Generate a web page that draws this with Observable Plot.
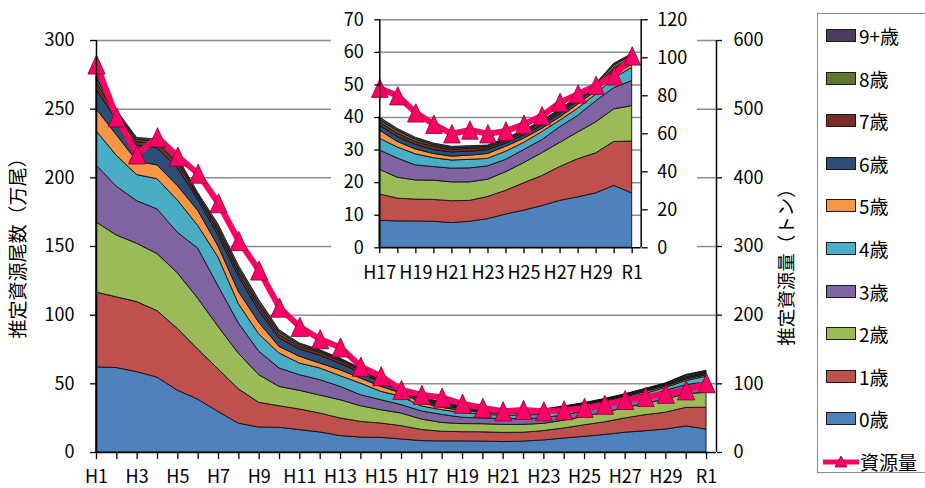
<!DOCTYPE html>
<html lang="ja"><head><meta charset="utf-8">
<script src="https://cdn.jsdelivr.net/npm/d3@7"></script>
<script src="https://cdn.jsdelivr.net/npm/@observablehq/plot@0.6"></script>
<style>
html,body{margin:0;padding:0;background:#fff;}
#wrap{position:relative;width:925px;height:488px;overflow:hidden;font-family:"Noto Sans CJK JP","Noto Sans",sans-serif;}
#main{position:absolute;left:0;top:0;}
#inset{position:absolute;left:331px;top:0;background:#fff;}
#legend{position:absolute;left:817px;top:13px;width:140px;height:460px;border:1.3px solid #8a8a8a;box-sizing:border-box;background:#fff;}
.item{position:absolute;left:8px;height:26px;display:flex;align-items:center;font-size:19px;color:#000;white-space:nowrap;}
.sw{width:28px;height:11px;border:1.2px solid #1a1a1a;margin-right:3px;}
</style></head>
<body><div id="wrap"><div id="main"></div><div id="inset"></div><div id="legend"></div></div>
<script>
const years = ["H1","H2","H3","H4","H5","H6","H7","H8","H9","H10","H11","H12","H13","H14","H15","H16","H17","H18","H19","H20","H21","H22","H23","H24","H25","H26","H27","H28","H29","H30","R1"];
const ages = ["0歳","1歳","2歳","3歳","4歳","5歳","6歳","7歳","8歳","9+歳"];
const colors = ["#4F81BD","#C0504D","#9BBB59","#8064A2","#4BACC6","#F79646","#2C4D75","#772C2A","#5F7530","#4D3B62"];

// 推定資源尾数（万尾） by age
const age0 = [62,61.5,58.5,54.5,45,38.5,29.5,21,18.2,18,16.3,14.6,12,10.9,10.7,9.5,8.3,8.1,8.1,8.0,7.6,8.0,8.8,10.2,11.4,12.8,14.4,15.5,16.7,19.0,16.7];
const age1 = [54.5,51.5,51,48.5,45,36.5,31,25,18,15.7,15,13.8,12.8,11.4,10.4,9.7,8.1,7.0,6.7,6.7,6.7,6.4,6.8,7.3,8.4,9.2,10.4,11.7,12.3,13.5,15.9];
const age2 = [51,45,42.5,41.5,40.5,37,31,26,20.1,14.1,13.6,13.1,13.3,11.4,9.7,9.2,7.6,6.4,5.9,5.9,5.8,5.7,5.3,5.7,6.2,7.0,7.4,8.2,9.5,10.0,10.9];
const age3 = [41.5,35.5,31,32.5,29.5,36.5,29.5,22,17.2,13.4,11.4,11.2,9.7,8.0,7.3,6.1,5.9,5.9,4.6,4.2,4.2,4.3,4.1,3.8,4.0,4.0,4.8,5.1,6.5,6.5,7.7];
const age4 = [25,22.5,19,22,23.5,16.5,21,14,12.5,10.9,8.5,8.5,7.8,8.5,6.1,6.0,3.6,3.4,3.4,2.7,2.5,2.6,2.3,2.5,2.2,2.5,2.0,2.2,2.0,3.0,4.0];
const age5 = [16,15,10,10,10.5,11,8,9,8.5,4.8,4.9,3.6,4.3,3.7,3.6,2.5,2.5,1.7,1.5,1.3,1.2,1.3,1.5,1.5,1.3,1.0,1.0,1.3,1.0,1.0,1.0];
const age6 = [14,11,11.5,12.5,13,8,8,11,8.5,6.1,5.3,5.7,4.6,4.1,2.7,1.8,1.5,1.5,1.4,1.2,1.3,1.2,1.2,1.0,1.0,1.0,1.0,1.0,0.8,1.0,1.1];
const age7 = [5.5,3.5,2.5,3.5,4,2,3,3,3,2.5,2,2,2,1.5,1.0,0.8,1.0,1.0,0.9,1.0,0.7,0.9,0.6,0.7,0.7,0.7,0.6,0.6,0.7,1.0,0.9];
const age8 = [3,1.5,1.5,1.5,2,1.5,2,2.5,2,1.8,1.3,1.0,1.0,0.9,0.7,0.5,0.7,0.8,0.7,0.5,0.5,0.4,0.4,0.5,0.4,0.4,0.4,0.4,0.5,1.0,0.8];
const age9 = [3.5,2,1.5,1.5,2,1.5,3,2.5,3,1.7,1.1,1.0,0.9,0.8,0.5,0.5,0.8,0.7,0.6,0.5,0.5,0.4,0.4,0.3,0.4,0.4,0.4,0.3,0.3,0.5,0.5];
// 資源量（トン）
const biomass = [565,488,434,459,431,406,363,308,265,211,183,165,153,125,111,91,84,80,71,65,60,62,60,61.5,65,69.5,76.5,81,85.5,90.5,101];

const ageSeries = [age0,age1,age2,age3,age4,age5,age6,age7,age8,age9];
const pink = "#FF0066";
const font = '"Noto Sans CJK JP","Noto Sans",sans-serif';

const long = [];
ageSeries.forEach((arr, k) => arr.forEach((v, i) => long.push({i, age: ages[k], v})));
const idx = years.map((_, i) => i);

const tri = {draw(ctx, size) {
  const r = Math.sqrt(size / Math.PI);
  const w = 2.3 * r, h = 2.55 * r;
  ctx.moveTo(0, -h / 2); ctx.lineTo(w / 2, h / 2); ctx.lineTo(-w / 2, h / 2); ctx.closePath();
}};

const axisStyle = {fontSize: 18, strokeWidth: 1.3};

const main = Plot.plot({
  width: 925, height: 488,
  marginLeft: 96, marginRight: 209, marginTop: 40, marginBottom: 36,
  style: {fontFamily: font, fontSize: "18px", color: "#000", background: "transparent", overflow: "visible"},
  x: {type: "linear", domain: [0, 30.49], label: null},
  y: {domain: [0, 300], label: null},
  color: {domain: ages, range: colors},
  marks: [
    Plot.ruleY([50,100,150,200,250,300], {stroke: "#8c8c8c", strokeWidth: 1.5}),
    Plot.areaY(long, {x: "i", y: "v", fill: "age", order: ages, stroke: "#111", strokeWidth: 0.9, strokeLinejoin: "round"}),
    Plot.line(idx, {x: i => i, y: i => biomass[i] / 2, stroke: pink, strokeWidth: 6, strokeLinejoin: "round"}),
    Plot.dot(idx, {x: i => i, y: i => biomass[i] / 2, symbol: tri, r: 7.5, fill: pink, stroke: "#7a0030", strokeWidth: 0.8}),
    Plot.axisY([0,50,100,150,200,250,300], {anchor: "left", tickSize: 6, tickPadding: 16, label: null, ...axisStyle}),
    Plot.axisY([0,50,100,150,200,250,300], {anchor: "right", tickSize: 5, tickPadding: 12, label: null, tickFormat: d => d * 2, ...axisStyle}),
    Plot.axisX(idx, {anchor: "bottom", tickSize: 7, tickPadding: 11, label: null, tickFormat: i => (i % 2 === 0 ? years[i] : ""), ...axisStyle}),
    Plot.ruleX([0, 30.49], {stroke: "#000", strokeWidth: 1.5}),
    Plot.ruleY([0], {stroke: "#000", strokeWidth: 1.5}),
    Plot.text(["推定資源尾数（万尾）"], {frameAnchor: "left", textAnchor: "middle", dx: -78, dy: -3, rotate: -90, fontSize: 19, fill: "#000"}),
    Plot.text(["推定資源量（トン）"], {frameAnchor: "right", textAnchor: "middle", dx: 71, dy: 16, rotate: -90, fontSize: 18.5, fill: "#000"})
  ]
});
document.getElementById("main").appendChild(main);

const insetIdx = idx.filter(i => i >= 16);
const insetLong = long.filter(d => d.i >= 16);
const k = 70 / 120;
const inset = Plot.plot({
  width: 366, height: 292,
  marginLeft: 48.3, marginRight: 56.3, marginTop: 19.3, marginBottom: 44.7,
  style: {fontFamily: font, fontSize: "18px", color: "#000", background: "#fff", overflow: "visible"},
  x: {type: "linear", domain: [16, 30.5], label: null},
  y: {domain: [0, 70], label: null},
  color: {domain: ages, range: colors},
  marks: [
    Plot.ruleY([10,20,30,40,50,60,70], {stroke: "#8c8c8c", strokeWidth: 1.5}),
    Plot.areaY(insetLong, {x: "i", y: "v", fill: "age", order: ages, stroke: "#111", strokeWidth: 0.9, strokeLinejoin: "round"}),
    Plot.line(insetIdx, {x: i => i, y: i => biomass[i] * k, stroke: pink, strokeWidth: 6, strokeLinejoin: "round"}),
    Plot.dot(insetIdx, {x: i => i, y: i => biomass[i] * k, symbol: tri, r: 7.2, fill: pink, stroke: "#7a0030", strokeWidth: 0.8}),
    Plot.axisY([0,10,20,30,40,50,60,70], {anchor: "left", tickSize: 5, tickPadding: 11, label: null, ...axisStyle}),
    Plot.axisY([0,20,40,60,80,100,120].map(t => t * k), {anchor: "right", tickSize: 6, tickPadding: 10, label: null, tickFormat: d => Math.round(d / k), ...axisStyle}),
    Plot.axisX(insetIdx, {anchor: "bottom", tickSize: 6, tickPadding: 12, label: null, tickFormat: i => (i % 2 === 0 ? years[i] : ""), ...axisStyle}),
    Plot.ruleX([16, 30.5], {stroke: "#000", strokeWidth: 1.5}),
    Plot.ruleY([0], {stroke: "#000", strokeWidth: 1.5})
  ]
});
document.getElementById("inset").appendChild(inset);

// legend
const legend = document.getElementById("legend");
const order = ages.map((a, i) => i).reverse();
order.forEach((ai, j) => {
  const it = document.createElement("div");
  it.className = "item";
  it.style.top = (21.5 + j * 42.6 - 13) + "px";
  it.innerHTML = `<span class="sw" style="background:${colors[ai]}"></span><span>${ages[ai]}</span>`;
  legend.appendChild(it);
});
const last = document.createElement("div");
last.className = "item";
last.style.left = "5px";
last.style.top = (21.5 + 10 * 42.6 - 13) + "px";
last.innerHTML = `<svg width="36" height="14" style="margin-right:1px"><line x1="0" x2="36" y1="7" y2="7" stroke="${pink}" stroke-width="5"/><path d="M18,1 L24,12 L12,12 Z" fill="${pink}" stroke="#7a0030" stroke-width="0.8"/></svg><span>資源量</span>`;
legend.appendChild(last);
</script></body></html>
